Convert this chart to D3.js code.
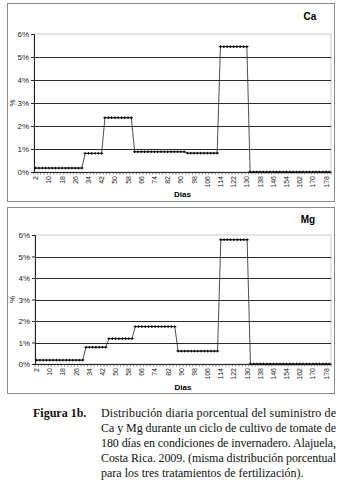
<!DOCTYPE html>
<html>
<head>
<meta charset="utf-8">
<title>Figura 1b</title>
<script src="https://d3js.org/d3.v7.min.js"></script>
<style>
  html, body { margin: 0; padding: 0; background: #fff; }
  svg { display: block; }
</style>
</head>
<body>
<script>
// days of the cycle (every 2nd day), category axis
var days = [2,4,6,8,10,12,14,16,18,20,22,24,26,28,30,32,34,36,38,40,
  42,44,46,48,50,52,54,56,58,60,62,64,66,68,70,72,74,76,78,80,
  82,84,86,88,90,92,94,96,98,100,102,104,106,108,110,112,114,116,118,120,
  122,124,126,128,130,132,134,136,138,140,142,144,146,148,150,152,154,156,158,160,
  162,164,166,168,170,172,174,176,178,180];

// daily % of supply
var caValues = [
  0.17,0.17,0.17,0.17,0.17,0.17,0.17,0.17,0.17,0.17,0.17,0.17,0.17,0.17,0.17,
  0.81,0.81,0.81,0.81,0.81,0.81,
  2.36,2.36,2.36,2.36,2.36,2.36,2.36,2.36,2.36,
  0.88,0.88,0.88,0.88,0.88,0.88,0.88,0.88,0.88,0.88,0.88,0.88,0.88,0.88,0.88,0.88,
  0.82,0.82,0.82,0.82,0.82,0.82,0.82,0.82,0.82,0.82,
  5.45,5.45,5.45,5.45,5.45,5.45,5.45,5.45,5.45,
  0,0,0,0,0,0,0,0,0,0,0,0,0,0,0,0,0,0,0,0,0,0,0,0,0];

var mgValues = [
  0.18,0.18,0.18,0.18,0.18,0.18,0.18,0.18,0.18,0.18,0.18,0.18,0.18,0.18,0.18,
  0.78,0.78,0.78,0.78,0.78,0.78,0.78,
  1.18,1.18,1.18,1.18,1.18,1.18,1.18,1.18,
  1.74,1.74,1.74,1.74,1.74,1.74,1.74,1.74,1.74,1.74,1.74,1.74,1.74,
  0.60,0.60,0.60,0.60,0.60,0.60,0.60,0.60,0.60,0.60,0.60,0.60,0.60,
  5.78,5.78,5.78,5.78,5.78,5.78,5.78,5.78,5.78,
  0,0,0,0,0,0,0,0,0,0,0,0,0,0,0,0,0,0,0,0,0,0,0,0,0];

var yTicks = [0,1,2,3,4,5,6];
var xLabelEvery = 4;

var captionHead = "Figura 1b.";
var captionLines = [
  "Distribución diaria porcentual del suministro de",
  "Ca y Mg durante un ciclo de cultivo de tomate de",
  "180 días en condiciones de invernadero. Alajuela,",
  "Costa Rica. 2009. (misma distribución porcentual",
  "para los tres tratamientos de fertilización)."
];

var svg = d3.select("body").append("svg")
  .attr("width", 347)
  .attr("height", 493);

function drawChart(cfg) {
  var g = svg.append("g");

  g.append("rect")
    .attr("x", cfg.box[0] + 0.5).attr("y", cfg.box[1] + 0.5)
    .attr("width", cfg.box[2]).attr("height", cfg.box[3])
    .attr("fill", "#fff").attr("stroke", "#8a8a8a").attr("stroke-width", 1);

  var x = d3.scaleBand().domain(days).range([cfg.left, cfg.right]);
  var y = d3.scaleLinear().domain([0, 6]).range([cfg.bottom, cfg.top]);

  // plot area border (light)
  g.append("rect")
    .attr("x", cfg.left).attr("y", cfg.top)
    .attr("width", cfg.right - cfg.left).attr("height", cfg.bottom - cfg.top)
    .attr("fill", "none").attr("stroke", "#c8c8c8");

  // gridlines
  g.selectAll(".grid").data(yTicks.filter(function(d) { return d > 0 && d < 6; }))
    .enter().append("line")
    .attr("x1", cfg.left).attr("x2", cfg.right)
    .attr("y1", function(d) { return Math.round(y(d)) + 0.5; })
    .attr("y2", function(d) { return Math.round(y(d)) + 0.5; })
    .attr("stroke", "#2a2a2a").attr("stroke-width", 1);

  // y axis
  var yAxis = g.append("g")
    .attr("transform", "translate(" + cfg.left + ",0)")
    .call(d3.axisLeft(y).tickValues(yTicks).tickSize(3).tickPadding(2)
      .tickFormat(function(d) { return d + "%"; }));
  yAxis.select(".domain").attr("stroke", "#222");
  yAxis.selectAll("line").attr("stroke", "#222");
  yAxis.selectAll("text").attr("font-family", "Liberation Sans, Arial, sans-serif")
    .attr("font-size", 8).attr("fill", "#222");

  // x axis
  var xAxis = g.append("g")
    .attr("transform", "translate(0," + cfg.bottom + ")")
    .call(d3.axisBottom(x).tickSize(0).tickSizeOuter(0)
      .tickFormat(function(d, i) { return i % xLabelEvery === 0 ? d : ""; }));
  xAxis.select(".domain").attr("stroke", "#222");
  xAxis.selectAll("text")
    .attr("font-family", "Liberation Sans, Arial, sans-serif")
    .attr("font-size", 7).attr("fill", "#222")
    .attr("transform", "rotate(-90)")
    .attr("text-anchor", "end")
    .attr("dy", "0.35em")
    .attr("x", -4).attr("y", 0);

  // small ticks between categories
  g.selectAll(".xt").data(days.concat(["end"]))
    .enter().append("line")
    .attr("x1", function(d, i) { return cfg.left + i * x.step(); })
    .attr("x2", function(d, i) { return cfg.left + i * x.step(); })
    .attr("y1", cfg.bottom).attr("y2", cfg.bottom + 2.5)
    .attr("stroke", "#333").attr("stroke-width", 0.6);

  var pts = days.map(function(d, i) { return [x(d) + x.bandwidth() / 2, y(cfg.values[i])]; });

  g.append("path")
    .attr("d", d3.line()(pts))
    .attr("fill", "none").attr("stroke", "#222").attr("stroke-width", 0.8);

  g.selectAll(".mk").data(pts).enter().append("path")
    .attr("d", function(p) {
      return "M" + (p[0] - 1.6) + "," + p[1] + "h3.2M" + p[0] + "," + (p[1] - 1.3) + "v2.6";
    })
    .attr("stroke", "#000").attr("stroke-width", 1);

  g.append("text")
    .attr("x", cfg.nameX).attr("y", cfg.nameY)
    .attr("text-anchor", "middle")
    .attr("font-family", "Liberation Sans, Arial, sans-serif")
    .attr("font-weight", "bold").attr("font-size", 10)
    .text(cfg.name);

  g.append("text")
    .attr("x", (cfg.left + cfg.right) / 2).attr("y", cfg.titleY)
    .attr("text-anchor", "middle")
    .attr("font-family", "Liberation Sans, Arial, sans-serif")
    .attr("font-weight", "bold").attr("font-size", 8)
    .text("Dias");

  g.append("text")
    .attr("transform", "translate(" + 15 + "," + (cfg.top + cfg.bottom) / 2 + ") rotate(-90)")
    .attr("text-anchor", "middle")
    .attr("font-family", "Liberation Sans, Arial, sans-serif")
    .attr("font-size", 8).attr("fill", "#222")
    .text("%");
}

drawChart({ box: [7, 3, 327, 198], left: 34, right: 331, top: 34, bottom: 172,
  values: caValues, name: "Ca", nameX: 310, nameY: 20, titleY: 197 });
drawChart({ box: [7, 207, 327, 186], left: 35, right: 331, top: 235, bottom: 364,
  values: mgValues, name: "Mg", nameX: 308, nameY: 223, titleY: 390 });

// caption
var cap = svg.append("g")
  .attr("font-family", "Liberation Serif, Times New Roman, serif")
  .attr("font-size", 12).attr("fill", "#111");

cap.append("text")
  .attr("x", 33).attr("y", 417)
  .attr("font-weight", "bold")
  .text(captionHead);

cap.selectAll(".cl").data(captionLines).enter().append("text")
  .attr("x", 101)
  .attr("y", function(d, i) { return 417 + i * 15; })
  .attr("textLength", function(d, i) { return i < captionLines.length - 1 ? 235 : null; })
  .attr("lengthAdjust", "spacing")
  .text(function(d) { return d; });
</script>
</body>
</html>
